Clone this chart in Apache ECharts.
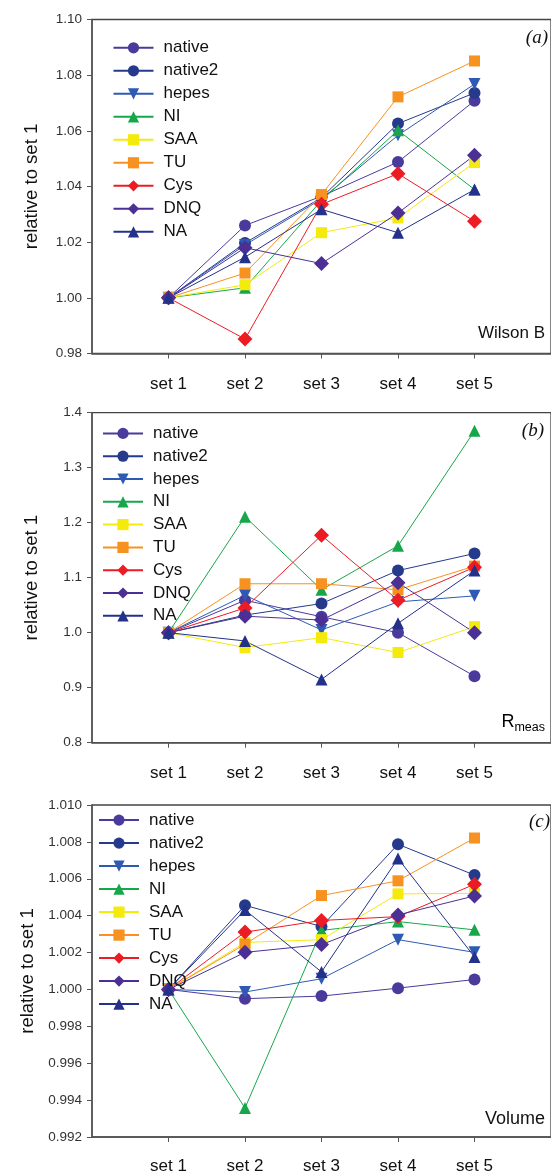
<!DOCTYPE html>
<html>
<head>
<meta charset="utf-8">
<script src="https://cdn.jsdelivr.net/npm/echarts@6/dist/echarts.min.js"></script>
<style>
  html, body { margin: 0; padding: 0; background: #fff; }
  #main { width: 551px; height: 1175px; }
</style>
</head>
<body>
<div id="main"></div>
<script>
// tick labels on the x axis
const categories = ['set 1', 'set 2', 'set 3', 'set 4', 'set 5']
const seriesNames = ['native', 'native2', 'hepes', 'NI', 'SAA', 'TU', 'Cys', 'DNQ', 'NA']
const colors = ['#4a3a9c', '#263a8c', '#2f5ab4', '#17a74b', '#f4ea0c', '#f7911f', '#ec1c24', '#4c2f94', '#24318a']
const symbols = ['circle', 'circle', 'triangle', 'triangle', 'rect', 'rect', 'diamond', 'diamond', 'triangle']
const rotations = [0, 0, 180, 0, 0, 0, 0, 0, 0]
const sizes = [12, 12, 12, 12, 11, 11, 15, 15, 12]

// (a) Wilson B, one row per series
const wilsonB = [
    [1.000, 1.0260, 1.0365, 1.0488, 1.0708],
    [1.000, 1.0197, 1.0360, 1.0626, 1.0736],
    [1.000, 1.0190, 1.0355, 1.0584, 1.0768],
    [1.000, 1.0036, 1.0350, 1.0602, 1.0389],
    [1.000, 1.0047, 1.0234, 1.0287, 1.0486],
    [1.000, 1.0089, 1.0371, 1.0722, 1.0851],
    [1.000, 0.9852, 1.0336, 1.0446, 1.0275],
    [1.000, 1.0180, 1.0123, 1.0305, 1.0512],
    [1.000, 1.0146, 1.0318, 1.0234, 1.0389]
]
// (b) Rmeas
const rMeas = [
    [1.000, 1.059, 1.029, 1.000, 0.921],
    [1.000, 1.032, 1.053, 1.113, 1.144],
    [1.000, 1.068, 1.005, 1.056, 1.067],
    [1.000, 1.211, 1.078, 1.158, 1.367],
    [1.000, 0.973, 0.991, 0.964, 1.011],
    [1.000, 1.089, 1.089, 1.078, 1.121],
    [1.000, 1.045, 1.177, 1.059, 1.119],
    [1.000, 1.030, 1.023, 1.091, 1.000],
    [1.000, 0.985, 0.915, 1.017, 1.113]
]
// (c) Volume
const volume = [
    [1.000, 0.99950, 0.99964, 1.00007, 1.00054],
    [1.000, 1.00456, 1.00341, 1.00787, 1.00620],
    [1.000, 0.99986, 1.00058, 1.00270, 1.00201],
    [1.000, 0.99357, 1.00320, 1.00368, 1.00323],
    [1.000, 1.00255, 1.00270, 1.00518, 1.00521],
    [1.000, 1.00245, 1.00509, 1.00589, 1.00821],
    [1.000, 1.00311, 1.00374, 1.00395, 1.00570],
    [1.000, 1.00201, 1.00243, 1.00404, 1.00507],
    [1.000, 1.00431, 1.00095, 1.00710, 1.00176]
]

const panels = [
    { data: wilsonB, top: 19.5, height: 334, min: 0.98, max: 1.10, interval: 0.02, digits: 2, margin: 22 },
    { data: rMeas, top: 412.7, height: 330, min: 0.8, max: 1.4, interval: 0.1, digits: 1, margin: 22 },
    { data: volume, top: 805, height: 334, min: 0.992, max: 1.010, interval: 0.002, digits: 3, margin: 21 }
]
const legendPos = [
    { left: 112.5, top: 39.3, gap: 6 },
    { left: 102, top: 424.9, gap: 5.8 },
    { left: 98, top: 811.6, gap: 6 }
]

const font = 'Liberation Sans, Arial, sans-serif'
let myChart = echarts.init(document.getElementById('main'))

const grids = [], xAxes = [], yAxes = [], series = [], legends = []
panels.forEach((p, k) => {
    grids.push({
        left: 92, width: 465, top: p.top, height: p.height,
        show: true, borderColor: '#444', borderWidth: 1.3, backgroundColor: 'transparent'
    })
    xAxes.push({
        type: 'value', gridIndex: k, min: 0, max: 6, interval: 1,
        axisLine: { onZero: false, lineStyle: { color: '#555', width: 1.5 } },
        axisTick: { customValues: [1, 2, 3, 4, 5], length: 5, lineStyle: { color: '#555' } },
        axisLabel: {
            customValues: [1, 2, 3, 4, 5],
            formatter: v => categories[v - 1] || '',
            fontSize: 17, color: '#111', fontFamily: font, margin: p.margin
        },
        splitLine: { show: false }
    })
    yAxes.push({
        type: 'value', gridIndex: k, min: p.min, max: p.max, interval: p.interval,
        name: 'relative to set 1', nameLocation: 'middle', nameGap: 51,
        nameTextStyle: { fontSize: 18.5, color: '#111', fontFamily: font },
        axisLine: { show: true, lineStyle: { color: '#555', width: 1.5 } },
        axisTick: { show: true, length: 5, lineStyle: { color: '#555' } },
        axisLabel: {
            formatter: v => v.toFixed(p.digits),
            fontSize: 13.5, color: '#333', fontFamily: font, margin: 10
        },
        splitLine: { show: false }
    })
    seriesNames.forEach((name, i) => {
        series.push({
            name: name, type: 'line', xAxisIndex: k, yAxisIndex: k,
            data: p.data[i].map((v, j) => [j + 1, v]),
            symbol: symbols[i], symbolRotate: rotations[i], symbolSize: sizes[i],
            showAllSymbol: true,
            color: colors[i],
            lineStyle: { width: 1, color: colors[i] },
            itemStyle: { color: colors[i] },
            emphasis: { disabled: true },
            animation: false
        })
    })
    legends.push({
        orient: 'vertical', left: legendPos[k].left, top: legendPos[k].top,
        padding: 0,
        itemWidth: 40, itemHeight: 14, itemGap: legendPos[k].gap,
        data: seriesNames,
        textStyle: { fontSize: 17, color: '#111', fontFamily: font, lineHeight: 14, padding: [0, 0, 0, 5] },
        selectedMode: false
    })
})

const serif = 'italic 19px "Liberation Serif", "DejaVu Serif", serif'
const options = {
    animation: false,
    grid: grids,
    xAxis: xAxes,
    yAxis: yAxes,
    legend: legends,
    series: series,
    graphic: [
        { type: 'text', x: 548, y: 38, style: { text: '(a)', font: serif, fill: '#111', align: 'right', verticalAlign: 'middle' } },
        { type: 'text', x: 544, y: 431, style: { text: '(b)', font: serif, fill: '#111', align: 'right', verticalAlign: 'middle' } },
        { type: 'text', x: 550, y: 822, style: { text: '(c)', font: serif, fill: '#111', align: 'right', verticalAlign: 'middle' } },
        { type: 'text', x: 545, y: 333, style: { text: 'Wilson B', font: '17px ' + font, fill: '#111', align: 'right', verticalAlign: 'middle' } },
        {
            type: 'text', x: 545, y: 722,
            style: {
                text: '{r|R}{s|meas}', align: 'right', verticalAlign: 'middle',
                rich: {
                    r: { fontSize: 18, fontFamily: font, color: '#111' },
                    s: { fontSize: 12.5, fontFamily: font, color: '#111', padding: [12, 0, 0, 0] }
                }
            }
        },
        { type: 'text', x: 545, y: 1119, style: { text: 'Volume', font: '18px ' + font, fill: '#111', align: 'right', verticalAlign: 'middle' } }
    ]
}
myChart.setOption(options)
</script>
</body>
</html>
